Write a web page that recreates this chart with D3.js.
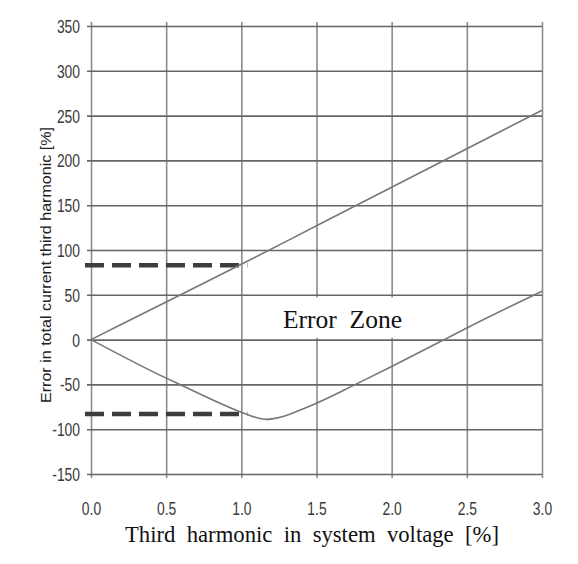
<!DOCTYPE html>
<html>
<head>
<meta charset="utf-8">
<script src="https://cdn.jsdelivr.net/npm/d3@7"></script>
<style>
  body { margin: 0; background: #fff; }
  .tick text { font-family: "Liberation Sans", Arial, sans-serif; fill: #3a3a3a; }
</style>
</head>
<body>
<div class="canvas"></div>
<script>
// Data

const xTicks = [0, 0.5, 1.0, 1.5, 2.0, 2.5, 3.0];
const yTicks = [-150, -100, -50, 0, 50, 100, 150, 200, 250, 300, 350];

const upperX = [0, 0.5, 1.0, 1.5, 2.0, 2.5, 3.0];
const upperY = [0, 42, 84, 127, 170, 213, 256];

const lowerX = [0, 0.5, 0.59, 1.0, 1.1, 1.17, 1.25, 1.4, 1.5, 1.76, 2.0, 2.35, 2.5, 3.0];
const lowerY = [0, -43, -50, -81, -87, -89, -87, -78, -71, -50, -30, 0, 13, 54];

const dashX = [-0.04, 1.04];
const dashLevels = [83, -83];

// Dimensions & margins

const margin = { top: 26, right: 36, bottom: 90, left: 91 };
const width = 578 - margin.left - margin.right;
const height = 564 - margin.top - margin.bottom;
const squeeze = 0.77;   // tick labels are narrow in the original

const x = d3.scaleLinear().domain([0, 3]).range([0, width]);
const y = d3.scaleLinear().domain([-150, 350]).range([height, 0]);

const svg = d3.select(".canvas")
    .append('svg')
        .attr('width', 578)
        .attr('height', 564)
    .append('g')
        .attr("transform", `translate(${margin.left}, ${margin.top})`);

// vertical grid + bottom ticks
const xAxis = svg.append('g')
    .attr("transform", `translate(0,${height})`)
    .call(d3.axisBottom(x)
        .tickValues(xTicks)
        .tickFormat(d3.format('.1f'))
        .tickSizeInner(-height - 4)
        .tickSizeOuter(0));
xAxis.select('.domain').remove();
xAxis.selectAll('.tick line')
    .attr('y1', 4)
    .attr('stroke', '#8c8c8c')
    .attr('stroke-width', 1.6);
xAxis.selectAll('.tick text')
    .attr('font-size', 18)
    .attr('dy', null)
    .attr('y', 41)
    .attr('transform', `scale(${squeeze},1)`);

// horizontal grid + left ticks
const yAxis = svg.append('g')
    .call(d3.axisLeft(y)
        .tickValues(yTicks)
        .tickFormat(d => String(d))
        .tickSizeInner(-width)
        .tickSizeOuter(0));
yAxis.select('.domain').remove();
yAxis.selectAll('.tick line')
    .attr('x1', -4)
    .attr('stroke', '#666')
    .attr('stroke-width', 1.6);
yAxis.selectAll('.tick text')
    .attr('font-size', 18)
    .attr('x', -11 / squeeze)
    .attr('dy', '0.36em')
    .attr('transform', `scale(${squeeze},1)`);

// white box behind the annotation, hides the grid only
svg.append('rect')
    .attr('x', x(1.02))
    .attr('y', y(47))
    .attr('width', x(2.49) - x(1.02))
    .attr('height', y(2) - y(47))
    .attr('fill', '#fff');

// dashed reference lines
dashLevels.forEach(v => {
    svg.append('line')
        .attr('x1', x(dashX[0]))
        .attr('x2', x(dashX[1]))
        .attr('y1', y(v))
        .attr('y2', y(v))
        .attr('stroke', '#3d3d3d')
        .attr('stroke-width', 4.5)
        .attr('stroke-dasharray', '19,8');
});

// curves
const line = d3.line()
    .x(d => x(d[0]))
    .y(d => y(d[1]))
    .curve(d3.curveMonotoneX);

[[upperX, upperY], [lowerX, lowerY]].forEach(([xs, ys]) => {
    svg.append('path')
        .datum(xs.map((v, i) => [v, ys[i]]))
        .attr('fill', 'none')
        .attr('stroke', '#777')
        .attr('stroke-width', 1.6)
        .attr('d', line);
});

svg.append('text')
    .attr('x', 283 - margin.left)
    .attr('y', 328 - margin.top)
    .attr('font-family', '"Liberation Serif", "Times New Roman", serif')
    .attr('font-size', 25)
    .attr('textLength', 119)
    .attr('lengthAdjust', 'spacingAndGlyphs')
    .style('white-space', 'pre')
    .attr('fill', '#111')
    .text('Error  Zone');

// axis titles
svg.append('text')
    .attr('x', 125 - margin.left)
    .attr('y', 542 - margin.top)
    .attr('font-family', '"Liberation Serif", "Times New Roman", serif')
    .attr('font-size', 24)
    .attr('textLength', 374)
    .attr('lengthAdjust', 'spacingAndGlyphs')
    .style('white-space', 'pre')
    .attr('fill', '#111')
    .text('Third  harmonic  in  system  voltage  [%]');

svg.append('text')
    .attr('transform', `translate(${51 - margin.left}, ${403 - margin.top}) rotate(-90)`)
    .attr('font-family', '"Liberation Sans", Arial, sans-serif')
    .attr('font-size', 15.5)
    .attr('textLength', 276)
    .attr('lengthAdjust', 'spacingAndGlyphs')
    .attr('fill', '#222')
    .text('Error in total current third harmonic [%]');
</script>
</body>
</html>
